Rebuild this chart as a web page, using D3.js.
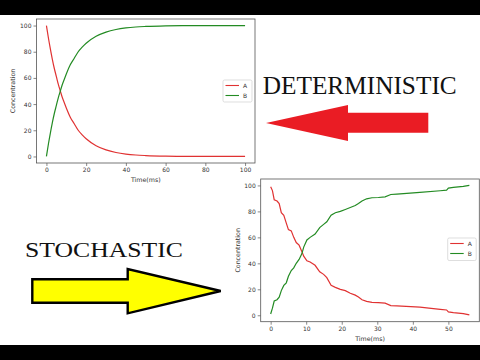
<!DOCTYPE html>
<html><head><meta charset="utf-8">
<script src="https://cdn.jsdelivr.net/npm/d3@7"></script>
<style>html,body{margin:0;padding:0;background:#000;}svg{display:block;}</style>
</head><body>
<svg id="c" width="480" height="360"></svg>
<script>
// ---- Data ----
const detTime = [0,1,2,3,4,5,6,7,8,9,10,12,14,16,18,20,25,30,35,40,45,50,60,70,80,90,100];
const detA    = [100,90.5,82,74,67,61,55,50,45,41,37,30,25,20,16.5,13.5,8.2,5,3,1.8,1.1,0.7,0.25,0.1,0.05,0,0];
const detB    = [0,9.5,18,26,33,39,45,50,55,59,63,70,75,80,83.5,86.5,91.8,95,97,98.2,98.9,99.3,99.75,99.9,99.95,100,100];

const stoTime = [0,0.5,1,1.8,2.4,3,3.7,4.4,5,5.8,6.5,7.2,8,8.8,9.3,10.2,11.1,12.5,13.8,14.9,15.8,17,18.2,19.6,21,22.4,23.8,24.7,25.7,27,28.5,30.3,32.2,33.8,35.5,42,47.7,49.5,50,51.4,54.2,55.9];
const stoA    = [99,96,89,88,86,79,77,71,66,65,60,56,54,49,45.5,42,41,38.5,33.5,31.5,29,23,21.5,20,19,17,15.5,14,12,10.7,10,9.8,9.3,7.5,7.2,6.2,4.6,4.1,2.6,2,1.3,0.3];
const stoB    = [1,5.5,11,12,14,19,23,25,30,34.5,36.5,40,43,47.5,52.5,58,60,62.5,67.5,70,72,77,79,80,81.5,83,84.5,86,88,89.7,90.5,90.7,91.2,93,93.3,94.6,95.9,96.4,97.9,98.5,99.2,100];

const detXTicks = [0,20,40,60,80,100];
const stoXTicks = [0,10,20,30,40,50];
const yTicks = [0,20,40,60,80,100];
const seriesNames = ["A","B"];
const xLabel = "Time(ms)";
const yLabel = "Concentration";
const titleDet = "DETERMINISTIC";
const titleSto = "STOCHASTIC";

const RED = "#e03232", GREEN = "#238b23";
const svg = d3.select("#c");

// background
svg.append("rect").attr("x",0).attr("y",0).attr("width",480).attr("height",360).attr("fill","#000");
svg.append("rect").attr("x",0).attr("y",15).attr("width",480).attr("height",330).attr("fill","#fff");

function chart(cfg){
  const {left,right,top,bottom,time,A,B,xDomain,yDomain,xTicks,legend,ylabX,xlabY} = cfg;
  const x = d3.scaleLinear().domain(xDomain).range([left,right]);
  const y = d3.scaleLinear().domain(yDomain).range([bottom,top]);
  const g = svg.append("g");
  const fontF = "DejaVu Sans, sans-serif";
  const ax = g.append("g").attr("transform",`translate(0,${bottom})`)
    .call(d3.axisBottom(x).tickValues(xTicks).tickSize(3).tickPadding(2).tickFormat(d3.format("d")));
  const ay = g.append("g").attr("transform",`translate(${left},0)`)
    .call(d3.axisLeft(y).tickValues(yTicks).tickSize(3).tickPadding(2).tickFormat(d3.format("d")));
  [ax,ay].forEach(a=>{
    a.select(".domain").remove();
    a.selectAll("line").attr("stroke","#555").attr("stroke-width",0.7);
    a.selectAll("text").attr("font-family",fontF).attr("font-size",6).attr("fill","#333");
  });
  g.append("rect").attr("x",left).attr("y",top).attr("width",right-left).attr("height",bottom-top)
    .attr("fill","none").attr("stroke","#555").attr("stroke-width",0.8);
  const line = (vals)=>d3.line().x((d,i)=>x(time[i])).y(d=>y(d)).curve(cfg.curve)(vals);
  g.append("path").attr("d",line(A)).attr("fill","none").attr("stroke",RED).attr("stroke-width",1.2);
  g.append("path").attr("d",line(B)).attr("fill","none").attr("stroke",GREEN).attr("stroke-width",1.2);
  g.append("text").attr("x",(left+right)/2).attr("y",xlabY).attr("text-anchor","middle")
    .attr("font-family",fontF).attr("font-size",6.3).attr("fill","#333").text(xLabel);
  g.append("text").attr("transform",`translate(${ylabX},${(top+bottom)/2}) rotate(-90)`).attr("text-anchor","middle")
    .attr("font-family",fontF).attr("font-size",6.3).attr("fill","#333").text(yLabel);
  const L = legend;
  g.append("rect").attr("x",L.x).attr("y",L.y).attr("width",L.w).attr("height",L.h).attr("rx",1.5)
    .attr("fill","#fff").attr("stroke","#d0d0d0").attr("stroke-width",0.7);
  [RED,GREEN].forEach((c,i)=>{
    const yy = L.y + 5.5 + i*10;
    g.append("line").attr("x1",L.x+2.5).attr("x2",L.x+16).attr("y1",yy).attr("y2",yy).attr("stroke",c).attr("stroke-width",1.1);
    g.append("text").attr("x",L.x+20).attr("y",yy+2).attr("font-family",fontF).attr("font-size",6)
      .attr("fill","#333").text(seriesNames[i]);
  });
}

chart({left:36.5,right:255,top:19,bottom:163,time:detTime,A:detA,B:detB,
  xDomain:[-5,105],yDomain:[-5,105],xTicks:detXTicks,curve:d3.curveMonotoneX,
  legend:{x:223,y:80,w:29,h:22},ylabX:15,xlabY:181.5});
chart({left:260.7,right:479.3,top:179,bottom:321.7,time:stoTime,A:stoA,B:stoB,
  xDomain:[-2.8,58.7],yDomain:[-4.95,104.95],xTicks:stoXTicks,curve:d3.curveLinear,
  legend:{x:447.7,y:238,w:28.5,h:22.5},ylabX:239.5,xlabY:340.5});

svg.append("text").attr("x",262.7).attr("y",94.3).attr("font-family","Liberation Serif, serif")
  .attr("font-size",25.5).attr("fill","#111").attr("textLength",194).attr("lengthAdjust","spacingAndGlyphs").text(titleDet);
svg.append("text").attr("x",25).attr("y",257.3).attr("font-family","Liberation Serif, serif")
  .attr("font-size",22).attr("fill","#111").attr("textLength",158).attr("lengthAdjust","spacingAndGlyphs").text(titleSto);

const redArrow = [[266,123],[348,105],[348,112.7],[428.3,112.7],[428.3,132.7],[348,132.7],[348,141]];
svg.append("polygon").attr("points",redArrow.map(p=>p.join(",")).join(" ")).attr("fill","#ea1c24");
const yellowArrow = [[32.3,279.3],[127.7,279.3],[127.7,269],[220.7,291],[127.7,313.3],[127.7,302.7],[32.3,302.7]];
svg.append("polygon").attr("points",yellowArrow.map(p=>p.join(",")).join(" ")).attr("fill","#ffff00")
  .attr("stroke","#000").attr("stroke-width",2.4).attr("stroke-linejoin","miter");
</script>
</body></html>
